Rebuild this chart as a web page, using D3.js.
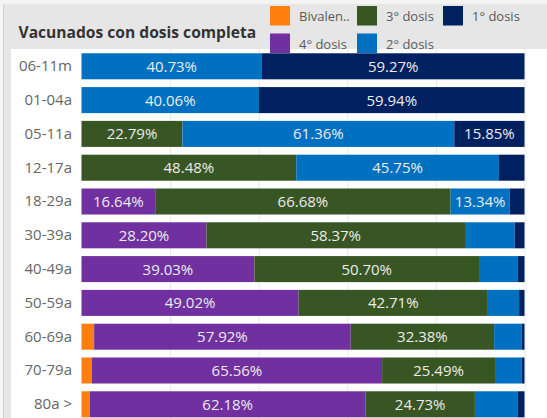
<!DOCTYPE html>
<html>
<head>
<meta charset="utf-8">
<script src="https://cdn.jsdelivr.net/npm/d3@7"></script>
<style>
  body { margin: 0; background: #fff; }
  svg { display: block; font-family: "Open Sans", sans-serif; }
</style>
</head>
<body>
<svg id="chart" width="547" height="418"></svg>
<script>
const categories = ["06-11m", "01-04a", "05-11a", "12-17a", "18-29a", "30-39a", "40-49a", "50-59a", "60-69a", "70-79a", "80a >"];
const seriesNames = ["Bivalente", "4° dosis", "3° dosis", "2° dosis", "1° dosis"];
const bivalente = [0, 0, 0, 0, 0, 0, 0, 0, 2.85, 2.3, 1.9];
const dosis4 = [0, 0, 0, 0, 16.64, 28.20, 39.03, 49.02, 57.92, 65.56, 62.18];
const dosis3 = [0, 0, 22.79, 48.48, 66.68, 58.37, 50.70, 42.71, 32.38, 25.49, 24.73];
const dosis2 = [40.73, 40.06, 61.36, 45.75, 13.34, 11.21, 8.67, 7.05, 6.2, 6.05, 9.59];
const dosis1 = [59.27, 59.94, 15.85, 5.77, 3.34, 2.22, 1.60, 1.22, 0.65, 0.6, 1.6];
const colors = ["#ff7f0e", "#7030a0", "#375623", "#0070c0", "#002060"];
const legendLabels = ["Bivalen..", "3° dosis", "1° dosis", "4° dosis", "2° dosis"];
const legendColors = ["#ff7f0e", "#375623", "#002060", "#7030a0", "#0070c0"];

const svg = d3.select("#chart");
const W = 547, H = 418;

// background frame
svg.append("rect").attr("x", 0).attr("y", 0).attr("width", W).attr("height", H).attr("fill", "#f4f4f4");
svg.append("rect").attr("x", 3).attr("y", 4).attr("width", W - 3).attr("height", H).attr("fill", "#e6e6e6");
svg.append("line").attr("x1", 3.5).attr("x2", 3.5).attr("y1", 4).attr("y2", H).attr("stroke", "#d2d2d2");
svg.append("rect").attr("x", 11).attr("y", 49).attr("width", W - 11).attr("height", H - 49).attr("fill", "#fff");

const table = categories.map((c, i) => ({
  cat: c,
  "Bivalente": bivalente[i],
  "4° dosis": dosis4[i],
  "3° dosis": dosis3[i],
  "2° dosis": dosis2[i],
  "1° dosis": dosis1[i],
}));

const x = d3.scaleLinear().domain([0, 100]).range([81.5, 524.5]);
const y = d3.scaleBand().domain(categories).range([49.4, 421.2]).paddingInner(0.23).paddingOuter(0.115);
const color = d3.scaleOrdinal().domain(seriesNames).range(colors);

// grid
svg.append("g")
  .selectAll("line")
  .data([20, 40, 60, 80, 100])
  .enter()
  .append("line")
  .attr("x1", (d) => x(d) + 0.5)
  .attr("x2", (d) => x(d) + 0.5)
  .attr("y1", 49)
  .attr("y2", H)
  .attr("stroke", "#e8e8e8")
  .attr("stroke-width", 1);

const stacked = d3.stack().keys(seriesNames)(table);

const layers = svg.append("g")
  .selectAll("g")
  .data(stacked)
  .enter()
  .append("g")
  .attr("fill", (d) => color(d.key));

layers.selectAll("rect")
  .data((d) => d)
  .enter()
  .append("rect")
  .attr("x", (d) => x(d[0]))
  .attr("y", (d) => y(d.data.cat))
  .attr("width", (d) => x(d[1]) - x(d[0]))
  .attr("height", y.bandwidth());

// segment labels
layers.selectAll("text")
  .data((d) => d.filter((p) => p[1] - p[0] >= 12))
  .enter()
  .append("text")
  .attr("x", (d) => (x(d[0]) + x(d[1])) / 2)
  .attr("y", (d) => y(d.data.cat) + y.bandwidth() / 2)
  .attr("dy", "0.36em")
  .attr("text-anchor", "middle")
  .attr("fill", "#ececec")
  .style("font-size", "15px")
  .text((d) => (d[1] - d[0]).toFixed(2) + "%");

// category axis
const yAxis = svg.append("g")
  .attr("transform", "translate(72,0)")
  .call(d3.axisLeft(y).tickSize(0).tickPadding(0));
yAxis.select(".domain").remove();
yAxis.selectAll("text")
  .attr("fill", "#666")
  .style("font-size", "15px")
  .style("font-family", "'Open Sans', sans-serif");

// title
svg.append("text")
  .attr("x", 18.5)
  .attr("y", 37.5)
  .attr("fill", "#333")
  .style("font-size", "15.6px")
  .style("font-weight", "bold")
  .text("Vacunados con dosis completa");

// legend
const legendX = [270, 357, 443];
const legendY = [6, 33.5];
const legend = svg.append("g")
  .selectAll("g")
  .data(legendLabels)
  .enter()
  .append("g")
  .attr("transform", (d, i) => `translate(${legendX[i % 3]},${legendY[Math.floor(i / 3)]})`);
legend.append("rect")
  .attr("width", 20)
  .attr("height", 19.5)
  .attr("fill", (d, i) => legendColors[i]);
legend.append("text")
  .attr("x", 29)
  .attr("y", 15)
  .attr("fill", "#5a5a5a")
  .style("font-size", "13px")
  .text((d) => d);
</script>
</body>
</html>
